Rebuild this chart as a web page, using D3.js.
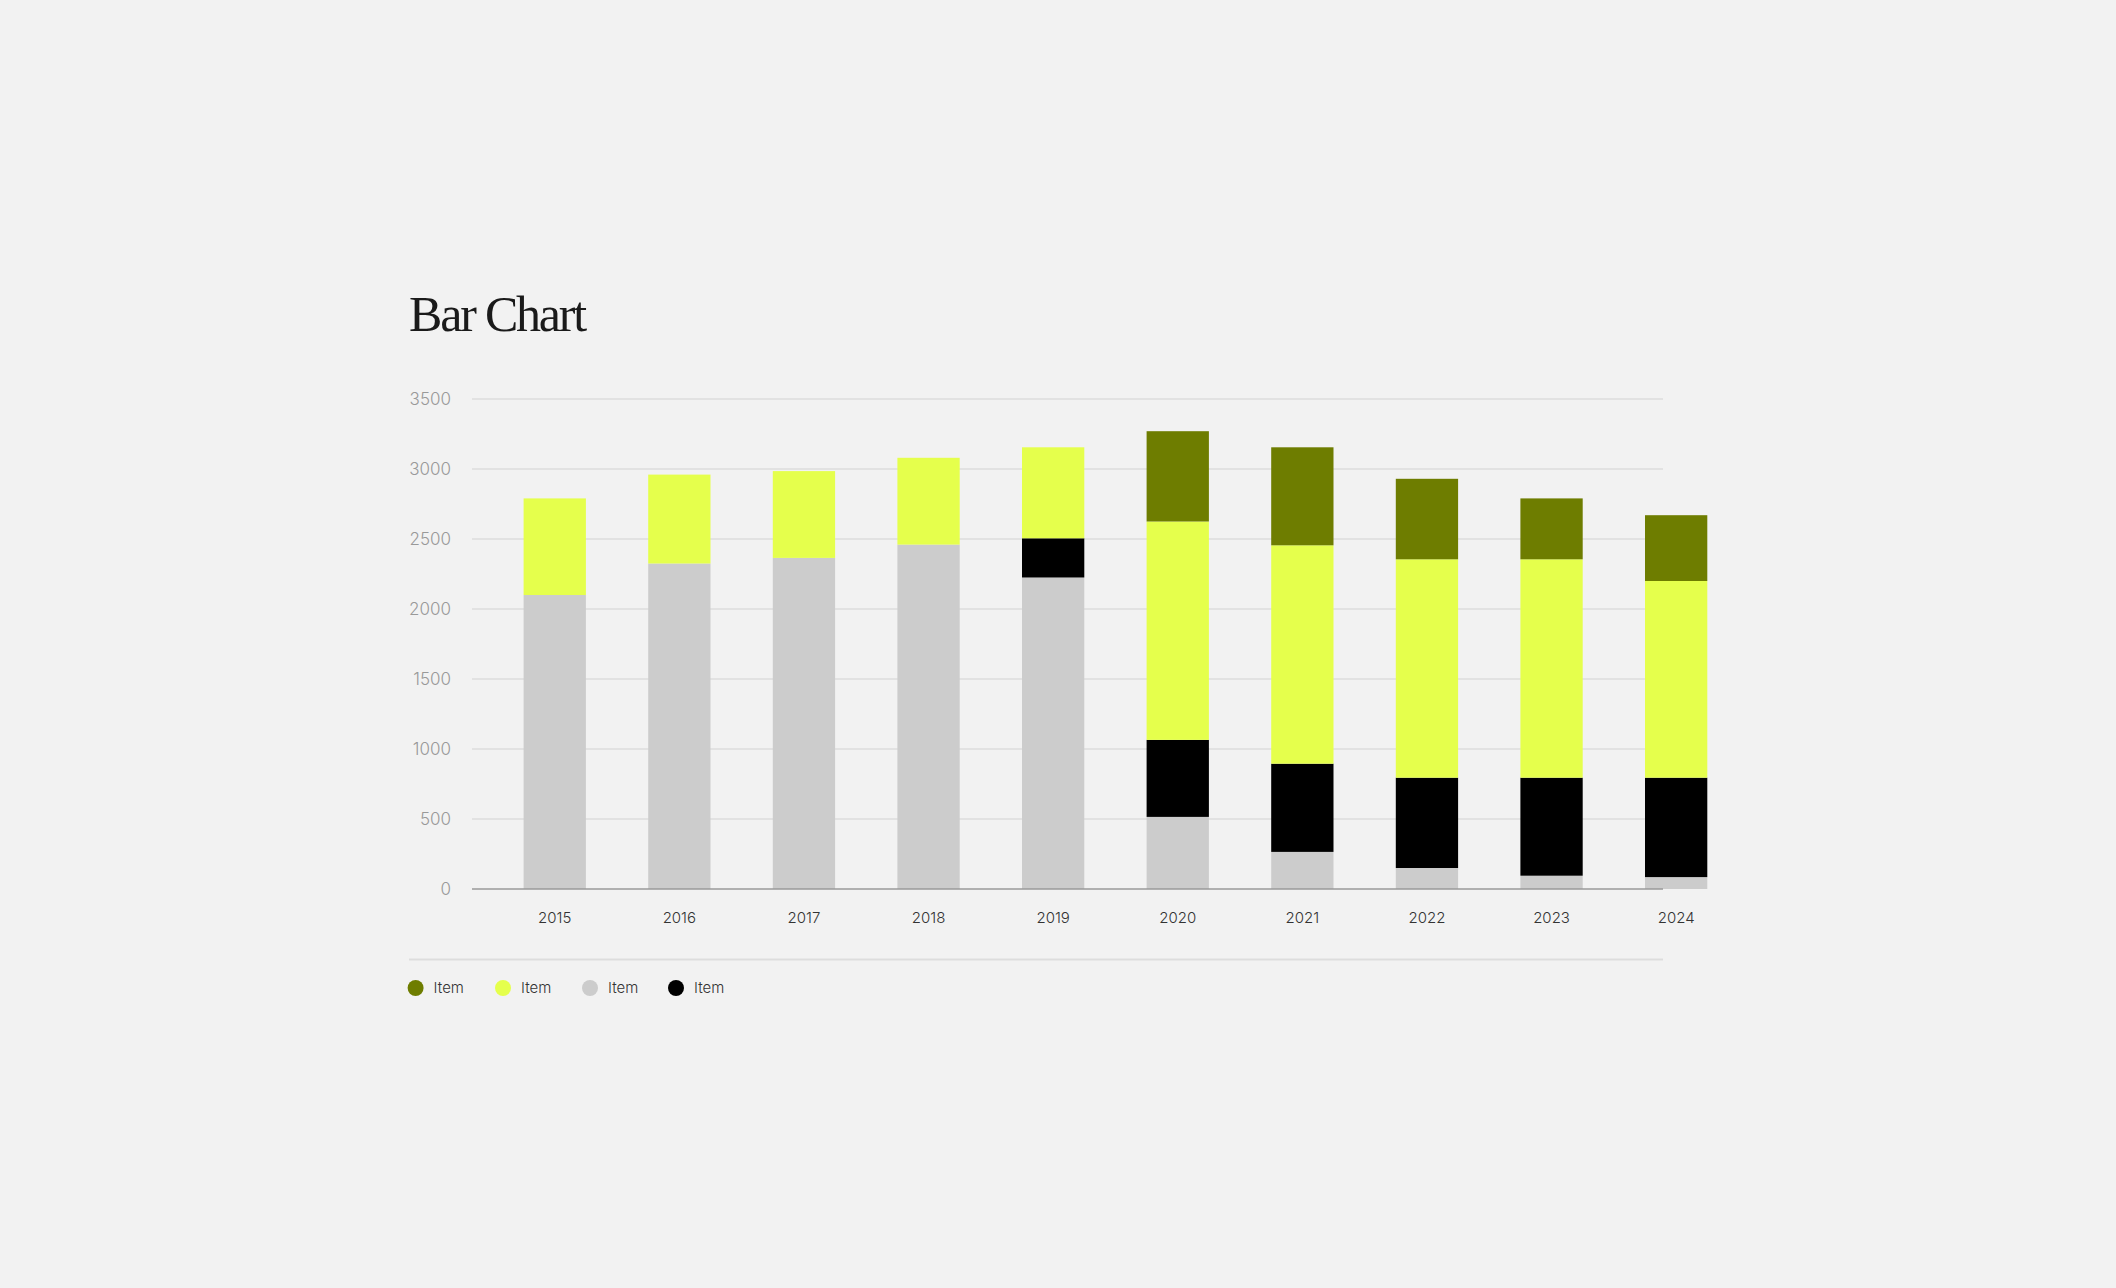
<!DOCTYPE html>
<html>
<head>
<meta charset="utf-8">
<script src="https://cdn.jsdelivr.net/npm/d3@7"></script>
<style>
  html, body { margin: 0; padding: 0; background: #f2f2f2; }
  svg { display: block; }
</style>
</head>
<body>
<svg id="chart" width="2116" height="1288"></svg>
<script>
const years = ["2015","2016","2017","2018","2019","2020","2021","2022","2023","2024"];
const grayValues   = [2100, 2325, 2365, 2460, 2225, 515, 265, 150, 95, 85];
const blackValues  = [0, 0, 0, 0, 280, 550, 630, 645, 700, 710];
const yellowValues = [690, 635, 620, 620, 650, 1560, 1560, 1560, 1560, 1405];
const oliveValues  = [0, 0, 0, 0, 0, 645, 700, 575, 435, 470];
const yTicks = [0, 500, 1000, 1500, 2000, 2500, 3000, 3500];
const legendLabels = ["Item", "Item", "Item", "Item"];
const title = "Bar Chart";

const seriesKeys = ["gray", "black", "yellow", "olive"];
const colors = { gray: "#cccccc", black: "#000000", yellow: "#e5ff4c", olive: "#6e7d00" };
const legendOrder = ["olive", "yellow", "gray", "black"];

const rows = years.map((y, i) => ({
  year: y, gray: grayValues[i], black: blackValues[i], yellow: yellowValues[i], olive: oliveValues[i]
}));

const svg = d3.select("#chart");
const gridX0 = 472, gridX1 = 1663;

const x = d3.scaleBand().domain(years).range([492.45, 1738.45]).paddingInner(0.5).paddingOuter(0.25);
const y = d3.scaleLinear().domain([0, 3500]).range([889, 399]);

// title
svg.append("text")
  .attr("x", 409).attr("y", 331)
  .attr("font-family", "'Liberation Serif', serif")
  .attr("font-size", 50)
  .attr("letter-spacing", -2.2)
  .attr("fill", "#1a1a1a")
  .text(title);

// gridlines
svg.append("g").selectAll("line").data(yTicks.filter(d => d > 0)).join("line")
  .attr("x1", gridX0).attr("x2", gridX1)
  .attr("y1", d => y(d)).attr("y2", d => y(d))
  .attr("stroke", "#dcdcdc").attr("stroke-width", 1.5);

// y labels
svg.append("g").selectAll("text").data(yTicks).join("text")
  .attr("x", 451).attr("y", d => y(d))
  .attr("dy", "0.35em")
  .attr("text-anchor", "end")
  .attr("font-family", "Inter, sans-serif")
  .attr("font-weight", 300)
  .attr("font-size", 17)
  .attr("fill", "#999")
  .text(d => d);

// stacked bars
const stack = d3.stack().keys(seriesKeys);
const stacked = stack(rows);
svg.append("g").selectAll("g").data(stacked).join("g")
  .attr("fill", d => colors[d.key])
  .selectAll("rect").data(d => d.filter(s => s[1] - s[0] > 0)).join("rect")
  .attr("x", d => x(d.data.year))
  .attr("width", x.bandwidth())
  .attr("y", d => y(d[1]))
  .attr("height", d => y(d[0]) - y(d[1]));

// baseline
svg.append("line")
  .attr("x1", gridX0).attr("x2", gridX1)
  .attr("y1", y(0)).attr("y2", y(0))
  .attr("stroke", "#9a9a9a").attr("stroke-width", 1.5);

// x labels
svg.append("g").selectAll("text").data(years).join("text")
  .attr("x", d => x(d) + x.bandwidth() / 2)
  .attr("y", 918)
  .attr("dy", "0.35em")
  .attr("text-anchor", "middle")
  .attr("font-family", "Inter, sans-serif")
  .attr("font-weight", 350)
  .attr("font-size", 15)
  .attr("fill", "#333")
  .text(d => d);

// separator
svg.append("line")
  .attr("x1", 409).attr("x2", gridX1)
  .attr("y1", 959.5).attr("y2", 959.5)
  .attr("stroke", "#dddddd").attr("stroke-width", 2);

// legend
const legendX = [415.6, 503, 590, 676];
const lg = svg.append("g").selectAll("g").data(legendOrder).join("g")
  .attr("transform", (d, i) => `translate(${legendX[i]},988)`);
lg.append("circle").attr("r", 8).attr("fill", d => colors[d]);
lg.append("text")
  .attr("x", 18).attr("dy", "0.35em")
  .attr("font-family", "Inter, sans-serif")
  .attr("font-weight", 350)
  .attr("font-size", 15)
  .attr("fill", "#333")
  .text((d, i) => legendLabels[i]);
</script>
</body>
</html>
